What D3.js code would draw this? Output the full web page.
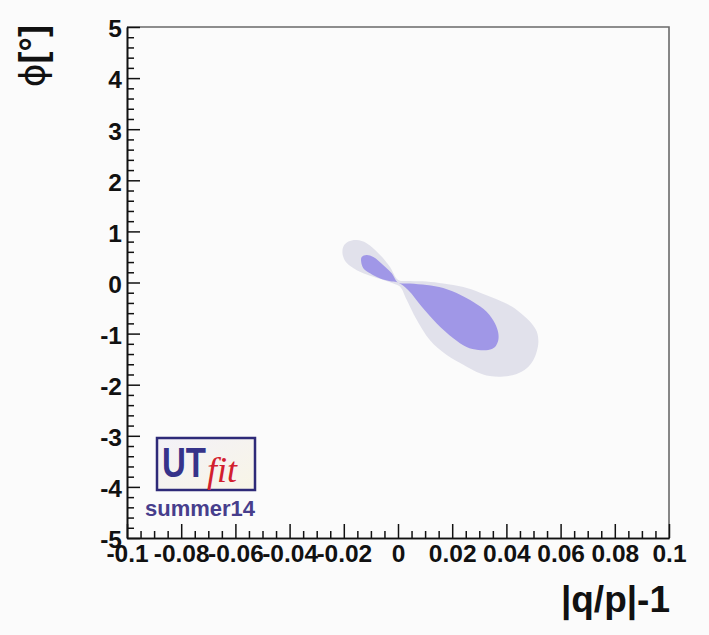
<!DOCTYPE html>
<html>
<head>
<meta charset="utf-8">
<script src="https://cdn.jsdelivr.net/npm/d3@7"></script>
<style>
  html, body { margin: 0; padding: 0; background: #fbfbfb; }
  svg { display: block; }
</style>
</head>
<body>
<svg id="chart" width="709" height="635"></svg>
<script>
// ---------------- data ----------------
const xDomain = [-0.1, 0.1];
const yDomain = [-5, 5];
const xMajorTicks = [-0.1, -0.08, -0.06, -0.04, -0.02, 0, 0.02, 0.04, 0.06, 0.08, 0.1];
const xTickLabels = ["-0.1", "-0.08", "-0.06", "-0.04", "-0.02", "0", "0.02", "0.04", "0.06", "0.08", "0.1"];
const yMajorTicks = [-5, -4, -3, -2, -1, 0, 1, 2, 3, 4, 5];
const yTickLabels = ["-5", "-4", "-3", "-2", "-1", "0", "1", "2", "3", "4", "5"];

// 95% region (outer, light grey)  [ |q/p|-1 , phi ]
const outerX = [-0.0202, -0.0183, -0.0152, -0.0116, -0.0066, -0.0030, 0.0001, 0.0044, 0.0106, 0.0167,
                0.0241, 0.0303, 0.0364, 0.0420, 0.0462, 0.0493, 0.0512, 0.0518, 0.0512, 0.0499,
                0.0475, 0.0438, 0.0389, 0.0339, 0.0290, 0.0241, 0.0180, 0.0118, 0.0069, 0.0032,
                0.0007, -0.0017, -0.0054, -0.0103, -0.0152, -0.0189, -0.0204];
const outerY = [0.70, 0.80, 0.83, 0.77, 0.54, 0.31, 0.05, 0.03, 0.02, -0.02,
                -0.09, -0.20, -0.33, -0.47, -0.64, -0.80, -0.96, -1.16, -1.35, -1.52,
                -1.68, -1.79, -1.84, -1.83, -1.75, -1.61, -1.42, -1.13, -0.73, -0.34,
                -0.08, -0.02, 0.05, 0.13, 0.24, 0.38, 0.54];

// 68% region (inner, purple)
const innerX = [-0.0134, -0.0116, -0.0091, -0.0054, -0.0023, 0.0000, 0.0044, 0.0106, 0.0167, 0.0229,
                0.0278, 0.0327, 0.0358, 0.0370, 0.0370, 0.0358, 0.0333, 0.0296, 0.0253, 0.0204,
                0.0143, 0.0087, 0.0038, 0.0000, -0.0023, -0.0066, -0.0103, -0.0128, -0.0136];
const innerY = [0.50, 0.54, 0.50, 0.34, 0.18, 0.00, -0.02, -0.05, -0.11, -0.24,
                -0.38, -0.57, -0.80, -0.99, -1.13, -1.26, -1.32, -1.32, -1.26, -1.09,
                -0.80, -0.47, -0.15, 0.00, 0.02, 0.08, 0.18, 0.28, 0.41];

// ---------------- layout ----------------
const svg = d3.select("#chart");
const L = 127, R = 669, T = 27, B = 538;
const x = d3.scaleLinear().domain(xDomain).range([L, R]);
const y = d3.scaleLinear().domain(yDomain).range([B, T]);

svg.append("rect").attr("x", L).attr("y", T).attr("width", R - L).attr("height", B - T)
   .attr("fill", "#fbfbfb");

// contours
const line = d3.line().x(d => x(d[0])).y(d => y(d[1])).curve(d3.curveCatmullRomClosed.alpha(0.5));
const outer = outerX.map((v, i) => [v, outerY[i]]);
const inner = innerX.map((v, i) => [v, innerY[i]]);
svg.append("path").attr("d", line(outer)).attr("fill", "#e1e1eb").attr("stroke", "none");
svg.append("path").attr("d", line(inner)).attr("fill", "#a097e7").attr("stroke", "none");

// frame top/right
svg.append("path")
   .attr("d", `M${L},${T}H${R}V${B}`)
   .attr("fill", "none").attr("stroke", "#6a6a6a").attr("stroke-width", 1.6);

// minor ticks
const xMinor = d3.range(0, 41).map(i => xDomain[0] + i * 0.005).filter((v, i) => i % 4 !== 0);
const yMinor = d3.range(0, 51).map(i => yDomain[0] + i * 0.2).filter((v, i) => i % 5 !== 0);

const gx = svg.append("g").attr("transform", `translate(0,${B})`);
gx.call(d3.axisTop(x).tickValues(xMinor).tickSize(7).tickFormat("").tickSizeOuter(0));
const gxM = svg.append("g").attr("transform", `translate(0,${B})`);
gxM.call(d3.axisTop(x).tickValues(xMajorTicks).tickSize(14).tickSizeOuter(0)
   .tickFormat((d, i) => xTickLabels[i]));

const gy = svg.append("g").attr("transform", `translate(${L},0)`);
gy.call(d3.axisRight(y).tickValues(yMinor).tickSize(7).tickFormat("").tickSizeOuter(0));
const gyM = svg.append("g").attr("transform", `translate(${L},0)`);
gyM.call(d3.axisRight(y).tickValues(yMajorTicks).tickSize(13).tickSizeOuter(0)
   .tickFormat((d, i) => yTickLabels[i]));

svg.selectAll(".domain").attr("stroke", "#111").attr("stroke-width", 1.6);
svg.selectAll(".tick line").attr("stroke", "#111").attr("stroke-width", 1.5);

gxM.selectAll(".tick text")
   .attr("y", 24).attr("dy", 0)
   .attr("font-family", "Liberation Sans, Arial, sans-serif")
   .attr("font-weight", "bold").attr("font-size", 24.5).attr("fill", "#111")
   .attr("text-anchor", "middle");
gyM.selectAll(".tick text")
   .attr("x", -5).attr("dy", "0.4em")
   .attr("font-family", "Liberation Sans, Arial, sans-serif")
   .attr("font-weight", "bold").attr("font-size", 24.5).attr("fill", "#111")
   .attr("text-anchor", "end");

// axis titles
svg.append("text").attr("x", 670).attr("y", 612)
   .attr("text-anchor", "end")
   .attr("font-family", "Liberation Sans, Arial, sans-serif")
   .attr("font-weight", "bold").attr("font-size", 37).attr("fill", "#111")
   .text("|q/p|-1");

svg.append("text")
   .attr("transform", "translate(45,25) rotate(-90)")
   .attr("text-anchor", "end")
   .attr("font-family", "DejaVu Sans, sans-serif")
   .attr("font-size", 36).attr("fill", "#111")
   .text("ϕ")
   .append("tspan")
   .attr("font-family", "Liberation Sans, Arial, sans-serif")
   .attr("font-weight", "bold")
   .text("[°]");

// UTfit logo
const grad = svg.append("defs").append("linearGradient").attr("id", "lg")
   .attr("x1", 0).attr("y1", 0).attr("x2", 1).attr("y2", 1);
grad.append("stop").attr("offset", 0).attr("stop-color", "#f3f1f8");
grad.append("stop").attr("offset", 1).attr("stop-color", "#f8f5e6");
svg.append("rect").attr("x", 157).attr("y", 438).attr("width", 98).attr("height", 52)
   .attr("fill", "url(#lg)").attr("stroke", "#2e2a78").attr("stroke-width", 2.5);
svg.append("text").attr("x", 162).attr("y", 477)
   .attr("font-family", "Liberation Sans, Arial, sans-serif")
   .attr("font-weight", "bold").attr("font-size", 42).attr("fill", "#36338a")
   .attr("textLength", 44).attr("lengthAdjust", "spacingAndGlyphs")
   .text("UT");
svg.append("text").attr("x", 207).attr("y", 482)
   .attr("font-family", "Liberation Serif, Times New Roman, serif")
   .attr("font-style", "italic").attr("font-size", 36).attr("fill", "#d2202e")
   .text("fit");
svg.append("text").attr("x", 145).attr("y", 516)
   .attr("font-family", "Liberation Sans, Arial, sans-serif")
   .attr("font-weight", "bold").attr("font-size", 22).attr("fill", "#473e8c")
   .text("summer14");
</script>
</body>
</html>
